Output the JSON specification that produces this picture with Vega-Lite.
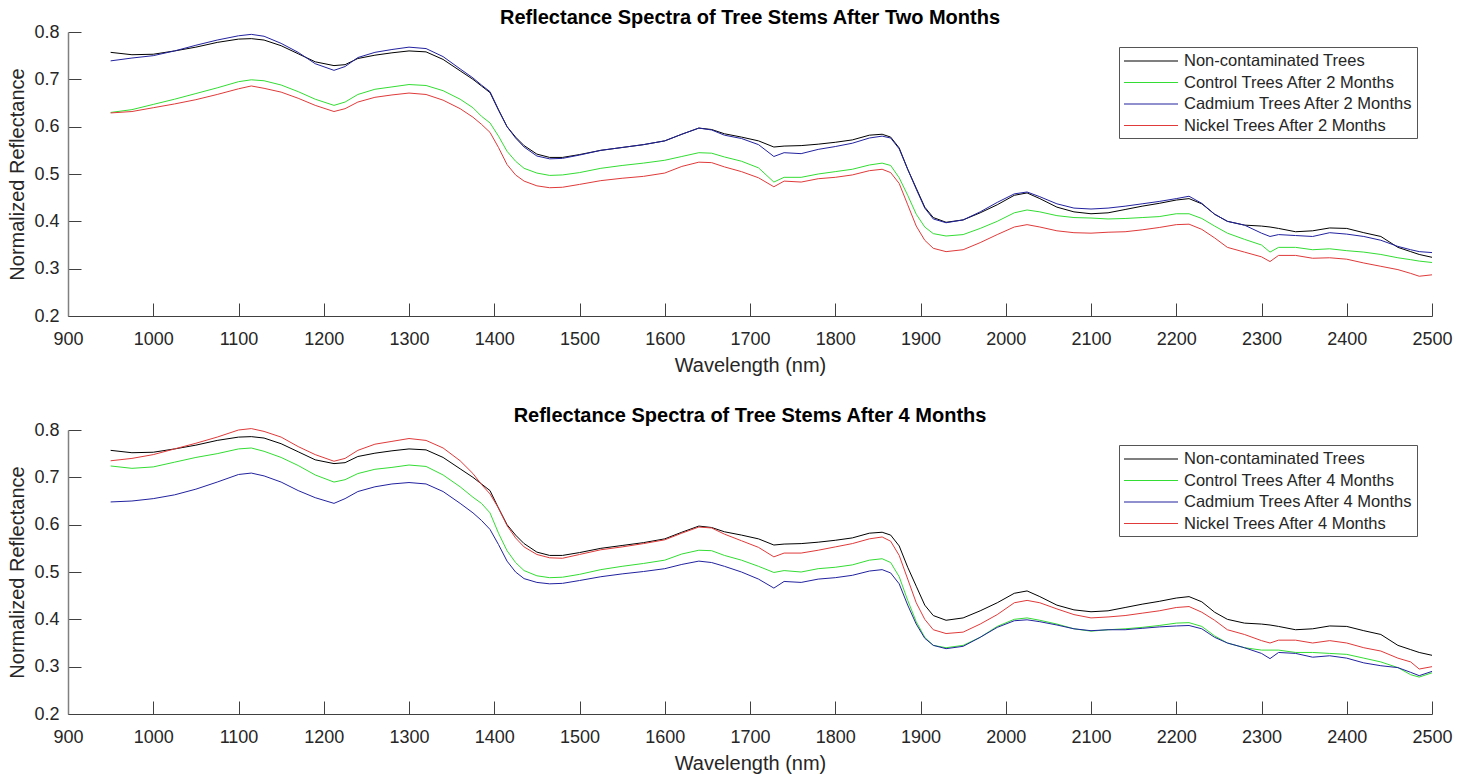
{
"$schema": "https://vega.github.io/schema/vega-lite/v6.json",
"background": "white",
"padding": {"left": 7, "top": 8, "right": 10, "bottom": 4},
"spacing": 30,
"config": {
  "font": "Liberation Sans",
  "view": {"stroke": null},
  "axis": {"labelFont": "Liberation Sans", "labelFontSize": 18, "labelColor": "#262626", "titleFont": "Liberation Sans", "titleFontSize": 20, "titleFontWeight": "normal", "titleColor": "#262626", "domainColor": "#404040", "tickColor": "#404040", "tickSize": -13, "grid": false, "labelFlush": false},
  "axisX": {"labelPadding": 27.5, "titlePadding": 7},
  "axisY": {"labelPadding": 22, "titlePadding": 6},
  "title": {"font": "Liberation Sans", "fontSize": 20, "fontWeight": "bold", "color": "#000000", "anchor": "middle", "offset": -5},
  "legend": {"labelFont": "Liberation Sans", "labelFontSize": 16.5, "labelColor": "#262626", "labelLimit": 0, "strokeColor": "#555555", "fillColor": "#ffffff", "padding": 4, "rowPadding": 2.5, "symbolType": "M-1,0H5", "symbolSize": 324, "symbolStrokeWidth": 1.2, "labelOffset": 41, "orient": "top-right", "offset": 15, "title": null}
},
"datasets": {"spectra": [
{"s":"N","w":950,"v":0.757},{"s":"N","w":975,"v":0.752},{"s":"N","w":1000,"v":0.753},{"s":"N","w":1025,"v":0.760},{"s":"N","w":1050,"v":0.768},{"s":"N","w":1075,"v":0.778},{"s":"N","w":1100,"v":0.785},{"s":"N","w":1115,"v":0.786},{"s":"N","w":1130,"v":0.783},{"s":"N","w":1150,"v":0.771},{"s":"N","w":1170,"v":0.754},{"s":"N","w":1190,"v":0.737},{"s":"N","w":1212,"v":0.729},{"s":"N","w":1225,"v":0.731},{"s":"N","w":1240,"v":0.744},{"s":"N","w":1260,"v":0.751},{"s":"N","w":1280,"v":0.756},{"s":"N","w":1300,"v":0.760},{"s":"N","w":1320,"v":0.758},{"s":"N","w":1340,"v":0.742},{"s":"N","w":1360,"v":0.718},{"s":"N","w":1375,"v":0.700},{"s":"N","w":1385,"v":0.686},{"s":"N","w":1395,"v":0.672},{"s":"N","w":1405,"v":0.635},{"s":"N","w":1415,"v":0.600},{"s":"N","w":1425,"v":0.578},{"s":"N","w":1435,"v":0.560},{"s":"N","w":1450,"v":0.542},{"s":"N","w":1465,"v":0.535},{"s":"N","w":1480,"v":0.535},{"s":"N","w":1500,"v":0.541},{"s":"N","w":1525,"v":0.550},{"s":"N","w":1550,"v":0.556},{"s":"N","w":1575,"v":0.562},{"s":"N","w":1600,"v":0.570},{"s":"N","w":1620,"v":0.584},{"s":"N","w":1640,"v":0.597},{"s":"N","w":1655,"v":0.594},{"s":"N","w":1670,"v":0.585},{"s":"N","w":1690,"v":0.578},{"s":"N","w":1710,"v":0.570},{"s":"N","w":1728,"v":0.557},{"s":"N","w":1740,"v":0.559},{"s":"N","w":1760,"v":0.560},{"s":"N","w":1780,"v":0.563},{"s":"N","w":1800,"v":0.567},{"s":"N","w":1820,"v":0.572},{"s":"N","w":1840,"v":0.582},{"s":"N","w":1855,"v":0.584},{"s":"N","w":1865,"v":0.578},{"s":"N","w":1875,"v":0.555},{"s":"N","w":1885,"v":0.510},{"s":"N","w":1895,"v":0.470},{"s":"N","w":1905,"v":0.430},{"s":"N","w":1915,"v":0.408},{"s":"N","w":1930,"v":0.398},{"s":"N","w":1950,"v":0.403},{"s":"N","w":1970,"v":0.418},{"s":"N","w":1990,"v":0.435},{"s":"N","w":2010,"v":0.455},{"s":"N","w":2025,"v":0.460},{"s":"N","w":2040,"v":0.448},{"s":"N","w":2060,"v":0.430},{"s":"N","w":2080,"v":0.420},{"s":"N","w":2100,"v":0.416},{"s":"N","w":2120,"v":0.418},{"s":"N","w":2140,"v":0.425},{"s":"N","w":2160,"v":0.432},{"s":"N","w":2180,"v":0.438},{"s":"N","w":2200,"v":0.445},{"s":"N","w":2215,"v":0.448},{"s":"N","w":2230,"v":0.437},{"s":"N","w":2245,"v":0.415},{"s":"N","w":2260,"v":0.400},{"s":"N","w":2280,"v":0.392},{"s":"N","w":2300,"v":0.390},{"s":"N","w":2310,"v":0.388},{"s":"N","w":2320,"v":0.385},{"s":"N","w":2340,"v":0.378},{"s":"N","w":2360,"v":0.380},{"s":"N","w":2380,"v":0.386},{"s":"N","w":2400,"v":0.385},{"s":"N","w":2420,"v":0.376},{"s":"N","w":2440,"v":0.368},{"s":"N","w":2460,"v":0.345},{"s":"N","w":2475,"v":0.336},{"s":"N","w":2485,"v":0.330},{"s":"N","w":2500,"v":0.324},
{"s":"C2","w":950,"v":0.630},{"s":"C2","w":975,"v":0.636},{"s":"C2","w":1000,"v":0.647},{"s":"C2","w":1025,"v":0.658},{"s":"C2","w":1050,"v":0.670},{"s":"C2","w":1075,"v":0.682},{"s":"C2","w":1100,"v":0.695},{"s":"C2","w":1115,"v":0.699},{"s":"C2","w":1130,"v":0.697},{"s":"C2","w":1150,"v":0.688},{"s":"C2","w":1170,"v":0.674},{"s":"C2","w":1190,"v":0.658},{"s":"C2","w":1212,"v":0.645},{"s":"C2","w":1225,"v":0.652},{"s":"C2","w":1240,"v":0.668},{"s":"C2","w":1260,"v":0.679},{"s":"C2","w":1280,"v":0.684},{"s":"C2","w":1300,"v":0.689},{"s":"C2","w":1320,"v":0.687},{"s":"C2","w":1340,"v":0.676},{"s":"C2","w":1360,"v":0.658},{"s":"C2","w":1375,"v":0.640},{"s":"C2","w":1385,"v":0.622},{"s":"C2","w":1395,"v":0.608},{"s":"C2","w":1405,"v":0.580},{"s":"C2","w":1415,"v":0.548},{"s":"C2","w":1425,"v":0.527},{"s":"C2","w":1435,"v":0.512},{"s":"C2","w":1450,"v":0.502},{"s":"C2","w":1465,"v":0.497},{"s":"C2","w":1480,"v":0.498},{"s":"C2","w":1500,"v":0.503},{"s":"C2","w":1525,"v":0.512},{"s":"C2","w":1550,"v":0.518},{"s":"C2","w":1575,"v":0.523},{"s":"C2","w":1600,"v":0.529},{"s":"C2","w":1620,"v":0.537},{"s":"C2","w":1640,"v":0.545},{"s":"C2","w":1655,"v":0.544},{"s":"C2","w":1670,"v":0.536},{"s":"C2","w":1690,"v":0.527},{"s":"C2","w":1710,"v":0.513},{"s":"C2","w":1728,"v":0.483},{"s":"C2","w":1740,"v":0.493},{"s":"C2","w":1760,"v":0.493},{"s":"C2","w":1780,"v":0.500},{"s":"C2","w":1800,"v":0.505},{"s":"C2","w":1820,"v":0.510},{"s":"C2","w":1840,"v":0.519},{"s":"C2","w":1855,"v":0.523},{"s":"C2","w":1865,"v":0.518},{"s":"C2","w":1875,"v":0.492},{"s":"C2","w":1885,"v":0.455},{"s":"C2","w":1895,"v":0.415},{"s":"C2","w":1905,"v":0.388},{"s":"C2","w":1915,"v":0.374},{"s":"C2","w":1930,"v":0.369},{"s":"C2","w":1950,"v":0.372},{"s":"C2","w":1970,"v":0.385},{"s":"C2","w":1990,"v":0.400},{"s":"C2","w":2010,"v":0.418},{"s":"C2","w":2025,"v":0.424},{"s":"C2","w":2040,"v":0.420},{"s":"C2","w":2060,"v":0.412},{"s":"C2","w":2080,"v":0.408},{"s":"C2","w":2100,"v":0.407},{"s":"C2","w":2120,"v":0.405},{"s":"C2","w":2140,"v":0.406},{"s":"C2","w":2160,"v":0.408},{"s":"C2","w":2180,"v":0.410},{"s":"C2","w":2200,"v":0.416},{"s":"C2","w":2215,"v":0.416},{"s":"C2","w":2230,"v":0.406},{"s":"C2","w":2245,"v":0.390},{"s":"C2","w":2260,"v":0.375},{"s":"C2","w":2280,"v":0.362},{"s":"C2","w":2300,"v":0.350},{"s":"C2","w":2310,"v":0.335},{"s":"C2","w":2320,"v":0.345},{"s":"C2","w":2340,"v":0.345},{"s":"C2","w":2360,"v":0.340},{"s":"C2","w":2380,"v":0.342},{"s":"C2","w":2400,"v":0.338},{"s":"C2","w":2420,"v":0.335},{"s":"C2","w":2440,"v":0.330},{"s":"C2","w":2460,"v":0.323},{"s":"C2","w":2475,"v":0.319},{"s":"C2","w":2485,"v":0.316},{"s":"C2","w":2500,"v":0.313},
{"s":"Cd2","w":950,"v":0.739},{"s":"Cd2","w":975,"v":0.745},{"s":"Cd2","w":1000,"v":0.750},{"s":"Cd2","w":1025,"v":0.760},{"s":"Cd2","w":1050,"v":0.772},{"s":"Cd2","w":1075,"v":0.783},{"s":"Cd2","w":1100,"v":0.792},{"s":"Cd2","w":1115,"v":0.795},{"s":"Cd2","w":1130,"v":0.791},{"s":"Cd2","w":1150,"v":0.776},{"s":"Cd2","w":1170,"v":0.757},{"s":"Cd2","w":1190,"v":0.733},{"s":"Cd2","w":1212,"v":0.719},{"s":"Cd2","w":1225,"v":0.727},{"s":"Cd2","w":1240,"v":0.746},{"s":"Cd2","w":1260,"v":0.757},{"s":"Cd2","w":1280,"v":0.763},{"s":"Cd2","w":1300,"v":0.768},{"s":"Cd2","w":1320,"v":0.765},{"s":"Cd2","w":1340,"v":0.748},{"s":"Cd2","w":1360,"v":0.722},{"s":"Cd2","w":1375,"v":0.703},{"s":"Cd2","w":1385,"v":0.688},{"s":"Cd2","w":1395,"v":0.674},{"s":"Cd2","w":1405,"v":0.636},{"s":"Cd2","w":1415,"v":0.600},{"s":"Cd2","w":1425,"v":0.576},{"s":"Cd2","w":1435,"v":0.557},{"s":"Cd2","w":1450,"v":0.538},{"s":"Cd2","w":1465,"v":0.532},{"s":"Cd2","w":1480,"v":0.533},{"s":"Cd2","w":1500,"v":0.540},{"s":"Cd2","w":1525,"v":0.550},{"s":"Cd2","w":1550,"v":0.556},{"s":"Cd2","w":1575,"v":0.562},{"s":"Cd2","w":1600,"v":0.570},{"s":"Cd2","w":1620,"v":0.584},{"s":"Cd2","w":1640,"v":0.597},{"s":"Cd2","w":1655,"v":0.593},{"s":"Cd2","w":1670,"v":0.582},{"s":"Cd2","w":1690,"v":0.575},{"s":"Cd2","w":1710,"v":0.562},{"s":"Cd2","w":1728,"v":0.537},{"s":"Cd2","w":1740,"v":0.545},{"s":"Cd2","w":1760,"v":0.543},{"s":"Cd2","w":1780,"v":0.552},{"s":"Cd2","w":1800,"v":0.558},{"s":"Cd2","w":1820,"v":0.565},{"s":"Cd2","w":1840,"v":0.576},{"s":"Cd2","w":1855,"v":0.580},{"s":"Cd2","w":1865,"v":0.576},{"s":"Cd2","w":1875,"v":0.553},{"s":"Cd2","w":1885,"v":0.510},{"s":"Cd2","w":1895,"v":0.468},{"s":"Cd2","w":1905,"v":0.428},{"s":"Cd2","w":1915,"v":0.405},{"s":"Cd2","w":1930,"v":0.397},{"s":"Cd2","w":1950,"v":0.403},{"s":"Cd2","w":1970,"v":0.420},{"s":"Cd2","w":1990,"v":0.440},{"s":"Cd2","w":2010,"v":0.458},{"s":"Cd2","w":2025,"v":0.462},{"s":"Cd2","w":2040,"v":0.452},{"s":"Cd2","w":2060,"v":0.437},{"s":"Cd2","w":2080,"v":0.428},{"s":"Cd2","w":2100,"v":0.426},{"s":"Cd2","w":2120,"v":0.428},{"s":"Cd2","w":2140,"v":0.432},{"s":"Cd2","w":2160,"v":0.437},{"s":"Cd2","w":2180,"v":0.442},{"s":"Cd2","w":2200,"v":0.448},{"s":"Cd2","w":2215,"v":0.453},{"s":"Cd2","w":2230,"v":0.438},{"s":"Cd2","w":2245,"v":0.415},{"s":"Cd2","w":2260,"v":0.400},{"s":"Cd2","w":2280,"v":0.392},{"s":"Cd2","w":2300,"v":0.375},{"s":"Cd2","w":2310,"v":0.368},{"s":"Cd2","w":2320,"v":0.372},{"s":"Cd2","w":2340,"v":0.370},{"s":"Cd2","w":2360,"v":0.368},{"s":"Cd2","w":2380,"v":0.376},{"s":"Cd2","w":2400,"v":0.373},{"s":"Cd2","w":2420,"v":0.368},{"s":"Cd2","w":2440,"v":0.360},{"s":"Cd2","w":2460,"v":0.347},{"s":"Cd2","w":2475,"v":0.340},{"s":"Cd2","w":2485,"v":0.336},{"s":"Cd2","w":2500,"v":0.334},
{"s":"Ni2","w":950,"v":0.629},{"s":"Ni2","w":975,"v":0.632},{"s":"Ni2","w":1000,"v":0.640},{"s":"Ni2","w":1025,"v":0.648},{"s":"Ni2","w":1050,"v":0.657},{"s":"Ni2","w":1075,"v":0.668},{"s":"Ni2","w":1100,"v":0.680},{"s":"Ni2","w":1115,"v":0.686},{"s":"Ni2","w":1130,"v":0.681},{"s":"Ni2","w":1150,"v":0.673},{"s":"Ni2","w":1170,"v":0.660},{"s":"Ni2","w":1190,"v":0.645},{"s":"Ni2","w":1212,"v":0.632},{"s":"Ni2","w":1225,"v":0.638},{"s":"Ni2","w":1240,"v":0.652},{"s":"Ni2","w":1260,"v":0.662},{"s":"Ni2","w":1280,"v":0.667},{"s":"Ni2","w":1300,"v":0.671},{"s":"Ni2","w":1320,"v":0.668},{"s":"Ni2","w":1340,"v":0.656},{"s":"Ni2","w":1360,"v":0.638},{"s":"Ni2","w":1375,"v":0.620},{"s":"Ni2","w":1385,"v":0.605},{"s":"Ni2","w":1395,"v":0.588},{"s":"Ni2","w":1405,"v":0.556},{"s":"Ni2","w":1415,"v":0.520},{"s":"Ni2","w":1425,"v":0.498},{"s":"Ni2","w":1435,"v":0.485},{"s":"Ni2","w":1450,"v":0.475},{"s":"Ni2","w":1465,"v":0.471},{"s":"Ni2","w":1480,"v":0.472},{"s":"Ni2","w":1500,"v":0.478},{"s":"Ni2","w":1525,"v":0.486},{"s":"Ni2","w":1550,"v":0.491},{"s":"Ni2","w":1575,"v":0.495},{"s":"Ni2","w":1600,"v":0.502},{"s":"Ni2","w":1620,"v":0.516},{"s":"Ni2","w":1640,"v":0.525},{"s":"Ni2","w":1655,"v":0.524},{"s":"Ni2","w":1670,"v":0.515},{"s":"Ni2","w":1690,"v":0.505},{"s":"Ni2","w":1710,"v":0.492},{"s":"Ni2","w":1728,"v":0.473},{"s":"Ni2","w":1740,"v":0.485},{"s":"Ni2","w":1760,"v":0.483},{"s":"Ni2","w":1780,"v":0.490},{"s":"Ni2","w":1800,"v":0.493},{"s":"Ni2","w":1820,"v":0.498},{"s":"Ni2","w":1840,"v":0.507},{"s":"Ni2","w":1855,"v":0.510},{"s":"Ni2","w":1865,"v":0.503},{"s":"Ni2","w":1875,"v":0.480},{"s":"Ni2","w":1885,"v":0.435},{"s":"Ni2","w":1895,"v":0.390},{"s":"Ni2","w":1905,"v":0.360},{"s":"Ni2","w":1915,"v":0.343},{"s":"Ni2","w":1930,"v":0.336},{"s":"Ni2","w":1950,"v":0.340},{"s":"Ni2","w":1970,"v":0.355},{"s":"Ni2","w":1990,"v":0.372},{"s":"Ni2","w":2010,"v":0.388},{"s":"Ni2","w":2025,"v":0.393},{"s":"Ni2","w":2040,"v":0.388},{"s":"Ni2","w":2060,"v":0.380},{"s":"Ni2","w":2080,"v":0.376},{"s":"Ni2","w":2100,"v":0.375},{"s":"Ni2","w":2120,"v":0.377},{"s":"Ni2","w":2140,"v":0.378},{"s":"Ni2","w":2160,"v":0.382},{"s":"Ni2","w":2180,"v":0.387},{"s":"Ni2","w":2200,"v":0.393},{"s":"Ni2","w":2215,"v":0.394},{"s":"Ni2","w":2230,"v":0.383},{"s":"Ni2","w":2245,"v":0.365},{"s":"Ni2","w":2260,"v":0.345},{"s":"Ni2","w":2280,"v":0.335},{"s":"Ni2","w":2300,"v":0.325},{"s":"Ni2","w":2310,"v":0.315},{"s":"Ni2","w":2320,"v":0.328},{"s":"Ni2","w":2340,"v":0.328},{"s":"Ni2","w":2360,"v":0.322},{"s":"Ni2","w":2380,"v":0.323},{"s":"Ni2","w":2400,"v":0.320},{"s":"Ni2","w":2420,"v":0.312},{"s":"Ni2","w":2440,"v":0.305},{"s":"Ni2","w":2460,"v":0.298},{"s":"Ni2","w":2475,"v":0.290},{"s":"Ni2","w":2485,"v":0.284},{"s":"Ni2","w":2500,"v":0.287},
{"s":"C4","w":950,"v":0.724},{"s":"C4","w":975,"v":0.719},{"s":"C4","w":1000,"v":0.722},{"s":"C4","w":1025,"v":0.732},{"s":"C4","w":1050,"v":0.742},{"s":"C4","w":1075,"v":0.750},{"s":"C4","w":1100,"v":0.760},{"s":"C4","w":1115,"v":0.762},{"s":"C4","w":1130,"v":0.755},{"s":"C4","w":1150,"v":0.742},{"s":"C4","w":1170,"v":0.725},{"s":"C4","w":1190,"v":0.705},{"s":"C4","w":1212,"v":0.690},{"s":"C4","w":1225,"v":0.695},{"s":"C4","w":1240,"v":0.708},{"s":"C4","w":1260,"v":0.717},{"s":"C4","w":1280,"v":0.721},{"s":"C4","w":1300,"v":0.726},{"s":"C4","w":1320,"v":0.723},{"s":"C4","w":1340,"v":0.705},{"s":"C4","w":1360,"v":0.680},{"s":"C4","w":1375,"v":0.658},{"s":"C4","w":1385,"v":0.645},{"s":"C4","w":1395,"v":0.625},{"s":"C4","w":1405,"v":0.582},{"s":"C4","w":1415,"v":0.545},{"s":"C4","w":1425,"v":0.520},{"s":"C4","w":1435,"v":0.503},{"s":"C4","w":1450,"v":0.492},{"s":"C4","w":1465,"v":0.488},{"s":"C4","w":1480,"v":0.489},{"s":"C4","w":1500,"v":0.495},{"s":"C4","w":1525,"v":0.505},{"s":"C4","w":1550,"v":0.512},{"s":"C4","w":1575,"v":0.518},{"s":"C4","w":1600,"v":0.525},{"s":"C4","w":1620,"v":0.538},{"s":"C4","w":1640,"v":0.546},{"s":"C4","w":1655,"v":0.545},{"s":"C4","w":1670,"v":0.535},{"s":"C4","w":1690,"v":0.525},{"s":"C4","w":1710,"v":0.512},{"s":"C4","w":1728,"v":0.499},{"s":"C4","w":1740,"v":0.503},{"s":"C4","w":1760,"v":0.500},{"s":"C4","w":1780,"v":0.507},{"s":"C4","w":1800,"v":0.510},{"s":"C4","w":1820,"v":0.515},{"s":"C4","w":1840,"v":0.525},{"s":"C4","w":1855,"v":0.528},{"s":"C4","w":1865,"v":0.520},{"s":"C4","w":1875,"v":0.490},{"s":"C4","w":1885,"v":0.440},{"s":"C4","w":1895,"v":0.395},{"s":"C4","w":1905,"v":0.362},{"s":"C4","w":1915,"v":0.345},{"s":"C4","w":1930,"v":0.340},{"s":"C4","w":1950,"v":0.345},{"s":"C4","w":1970,"v":0.362},{"s":"C4","w":1990,"v":0.385},{"s":"C4","w":2010,"v":0.400},{"s":"C4","w":2025,"v":0.403},{"s":"C4","w":2040,"v":0.398},{"s":"C4","w":2060,"v":0.390},{"s":"C4","w":2080,"v":0.380},{"s":"C4","w":2100,"v":0.375},{"s":"C4","w":2120,"v":0.378},{"s":"C4","w":2140,"v":0.380},{"s":"C4","w":2160,"v":0.383},{"s":"C4","w":2180,"v":0.387},{"s":"C4","w":2200,"v":0.392},{"s":"C4","w":2215,"v":0.393},{"s":"C4","w":2230,"v":0.385},{"s":"C4","w":2245,"v":0.365},{"s":"C4","w":2260,"v":0.350},{"s":"C4","w":2280,"v":0.340},{"s":"C4","w":2300,"v":0.335},{"s":"C4","w":2310,"v":0.335},{"s":"C4","w":2320,"v":0.335},{"s":"C4","w":2340,"v":0.330},{"s":"C4","w":2360,"v":0.330},{"s":"C4","w":2380,"v":0.328},{"s":"C4","w":2400,"v":0.326},{"s":"C4","w":2420,"v":0.318},{"s":"C4","w":2440,"v":0.310},{"s":"C4","w":2460,"v":0.298},{"s":"C4","w":2475,"v":0.283},{"s":"C4","w":2485,"v":0.278},{"s":"C4","w":2500,"v":0.287},
{"s":"Cd4","w":950,"v":0.648},{"s":"Cd4","w":975,"v":0.650},{"s":"Cd4","w":1000,"v":0.655},{"s":"Cd4","w":1025,"v":0.663},{"s":"Cd4","w":1050,"v":0.675},{"s":"Cd4","w":1075,"v":0.690},{"s":"Cd4","w":1100,"v":0.706},{"s":"Cd4","w":1115,"v":0.709},{"s":"Cd4","w":1130,"v":0.703},{"s":"Cd4","w":1150,"v":0.690},{"s":"Cd4","w":1170,"v":0.672},{"s":"Cd4","w":1190,"v":0.657},{"s":"Cd4","w":1212,"v":0.645},{"s":"Cd4","w":1225,"v":0.655},{"s":"Cd4","w":1240,"v":0.670},{"s":"Cd4","w":1260,"v":0.680},{"s":"Cd4","w":1280,"v":0.686},{"s":"Cd4","w":1300,"v":0.689},{"s":"Cd4","w":1320,"v":0.686},{"s":"Cd4","w":1340,"v":0.670},{"s":"Cd4","w":1360,"v":0.645},{"s":"Cd4","w":1375,"v":0.625},{"s":"Cd4","w":1385,"v":0.609},{"s":"Cd4","w":1395,"v":0.590},{"s":"Cd4","w":1405,"v":0.558},{"s":"Cd4","w":1415,"v":0.523},{"s":"Cd4","w":1425,"v":0.500},{"s":"Cd4","w":1435,"v":0.486},{"s":"Cd4","w":1450,"v":0.478},{"s":"Cd4","w":1465,"v":0.475},{"s":"Cd4","w":1480,"v":0.476},{"s":"Cd4","w":1500,"v":0.482},{"s":"Cd4","w":1525,"v":0.490},{"s":"Cd4","w":1550,"v":0.496},{"s":"Cd4","w":1575,"v":0.501},{"s":"Cd4","w":1600,"v":0.507},{"s":"Cd4","w":1620,"v":0.516},{"s":"Cd4","w":1640,"v":0.523},{"s":"Cd4","w":1655,"v":0.520},{"s":"Cd4","w":1670,"v":0.512},{"s":"Cd4","w":1690,"v":0.500},{"s":"Cd4","w":1710,"v":0.485},{"s":"Cd4","w":1728,"v":0.466},{"s":"Cd4","w":1740,"v":0.480},{"s":"Cd4","w":1760,"v":0.478},{"s":"Cd4","w":1780,"v":0.485},{"s":"Cd4","w":1800,"v":0.488},{"s":"Cd4","w":1820,"v":0.493},{"s":"Cd4","w":1840,"v":0.502},{"s":"Cd4","w":1855,"v":0.505},{"s":"Cd4","w":1865,"v":0.498},{"s":"Cd4","w":1875,"v":0.475},{"s":"Cd4","w":1885,"v":0.430},{"s":"Cd4","w":1895,"v":0.390},{"s":"Cd4","w":1905,"v":0.360},{"s":"Cd4","w":1915,"v":0.345},{"s":"Cd4","w":1930,"v":0.338},{"s":"Cd4","w":1950,"v":0.343},{"s":"Cd4","w":1970,"v":0.362},{"s":"Cd4","w":1990,"v":0.383},{"s":"Cd4","w":2010,"v":0.397},{"s":"Cd4","w":2025,"v":0.399},{"s":"Cd4","w":2040,"v":0.395},{"s":"Cd4","w":2060,"v":0.388},{"s":"Cd4","w":2080,"v":0.380},{"s":"Cd4","w":2100,"v":0.376},{"s":"Cd4","w":2120,"v":0.378},{"s":"Cd4","w":2140,"v":0.378},{"s":"Cd4","w":2160,"v":0.381},{"s":"Cd4","w":2180,"v":0.384},{"s":"Cd4","w":2200,"v":0.386},{"s":"Cd4","w":2215,"v":0.387},{"s":"Cd4","w":2230,"v":0.380},{"s":"Cd4","w":2245,"v":0.362},{"s":"Cd4","w":2260,"v":0.350},{"s":"Cd4","w":2280,"v":0.340},{"s":"Cd4","w":2300,"v":0.328},{"s":"Cd4","w":2310,"v":0.317},{"s":"Cd4","w":2320,"v":0.330},{"s":"Cd4","w":2340,"v":0.328},{"s":"Cd4","w":2360,"v":0.320},{"s":"Cd4","w":2380,"v":0.323},{"s":"Cd4","w":2400,"v":0.318},{"s":"Cd4","w":2420,"v":0.308},{"s":"Cd4","w":2440,"v":0.302},{"s":"Cd4","w":2460,"v":0.298},{"s":"Cd4","w":2475,"v":0.288},{"s":"Cd4","w":2485,"v":0.281},{"s":"Cd4","w":2500,"v":0.290},
{"s":"Ni4","w":950,"v":0.735},{"s":"Ni4","w":975,"v":0.740},{"s":"Ni4","w":1000,"v":0.748},{"s":"Ni4","w":1025,"v":0.760},{"s":"Ni4","w":1050,"v":0.772},{"s":"Ni4","w":1075,"v":0.785},{"s":"Ni4","w":1100,"v":0.800},{"s":"Ni4","w":1115,"v":0.803},{"s":"Ni4","w":1130,"v":0.797},{"s":"Ni4","w":1150,"v":0.785},{"s":"Ni4","w":1170,"v":0.765},{"s":"Ni4","w":1190,"v":0.748},{"s":"Ni4","w":1212,"v":0.734},{"s":"Ni4","w":1225,"v":0.740},{"s":"Ni4","w":1240,"v":0.757},{"s":"Ni4","w":1260,"v":0.770},{"s":"Ni4","w":1280,"v":0.776},{"s":"Ni4","w":1300,"v":0.782},{"s":"Ni4","w":1320,"v":0.778},{"s":"Ni4","w":1340,"v":0.762},{"s":"Ni4","w":1360,"v":0.735},{"s":"Ni4","w":1375,"v":0.708},{"s":"Ni4","w":1385,"v":0.685},{"s":"Ni4","w":1395,"v":0.665},{"s":"Ni4","w":1405,"v":0.635},{"s":"Ni4","w":1415,"v":0.598},{"s":"Ni4","w":1425,"v":0.572},{"s":"Ni4","w":1435,"v":0.553},{"s":"Ni4","w":1450,"v":0.537},{"s":"Ni4","w":1465,"v":0.530},{"s":"Ni4","w":1480,"v":0.529},{"s":"Ni4","w":1500,"v":0.537},{"s":"Ni4","w":1525,"v":0.547},{"s":"Ni4","w":1550,"v":0.553},{"s":"Ni4","w":1575,"v":0.560},{"s":"Ni4","w":1600,"v":0.568},{"s":"Ni4","w":1620,"v":0.582},{"s":"Ni4","w":1640,"v":0.595},{"s":"Ni4","w":1655,"v":0.593},{"s":"Ni4","w":1670,"v":0.580},{"s":"Ni4","w":1690,"v":0.566},{"s":"Ni4","w":1710,"v":0.552},{"s":"Ni4","w":1728,"v":0.532},{"s":"Ni4","w":1740,"v":0.540},{"s":"Ni4","w":1760,"v":0.540},{"s":"Ni4","w":1780,"v":0.546},{"s":"Ni4","w":1800,"v":0.553},{"s":"Ni4","w":1820,"v":0.560},{"s":"Ni4","w":1840,"v":0.570},{"s":"Ni4","w":1855,"v":0.574},{"s":"Ni4","w":1865,"v":0.565},{"s":"Ni4","w":1875,"v":0.535},{"s":"Ni4","w":1885,"v":0.485},{"s":"Ni4","w":1895,"v":0.435},{"s":"Ni4","w":1905,"v":0.400},{"s":"Ni4","w":1915,"v":0.378},{"s":"Ni4","w":1930,"v":0.370},{"s":"Ni4","w":1950,"v":0.373},{"s":"Ni4","w":1970,"v":0.390},{"s":"Ni4","w":1990,"v":0.410},{"s":"Ni4","w":2010,"v":0.435},{"s":"Ni4","w":2025,"v":0.440},{"s":"Ni4","w":2040,"v":0.435},{"s":"Ni4","w":2060,"v":0.422},{"s":"Ni4","w":2080,"v":0.410},{"s":"Ni4","w":2100,"v":0.403},{"s":"Ni4","w":2120,"v":0.405},{"s":"Ni4","w":2140,"v":0.408},{"s":"Ni4","w":2160,"v":0.413},{"s":"Ni4","w":2180,"v":0.418},{"s":"Ni4","w":2200,"v":0.425},{"s":"Ni4","w":2215,"v":0.427},{"s":"Ni4","w":2230,"v":0.415},{"s":"Ni4","w":2245,"v":0.398},{"s":"Ni4","w":2260,"v":0.378},{"s":"Ni4","w":2280,"v":0.368},{"s":"Ni4","w":2300,"v":0.355},{"s":"Ni4","w":2310,"v":0.350},{"s":"Ni4","w":2320,"v":0.356},{"s":"Ni4","w":2340,"v":0.356},{"s":"Ni4","w":2360,"v":0.350},{"s":"Ni4","w":2380,"v":0.355},{"s":"Ni4","w":2400,"v":0.350},{"s":"Ni4","w":2420,"v":0.340},{"s":"Ni4","w":2440,"v":0.333},{"s":"Ni4","w":2460,"v":0.318},{"s":"Ni4","w":2475,"v":0.310},{"s":"Ni4","w":2485,"v":0.295},{"s":"Ni4","w":2500,"v":0.300}
]},
"vconcat": [
 {
  "width": 1364, "height": 284,
  "title": "Reflectance Spectra of Tree Stems After Two Months",
  "data": {"name": "spectra"},
  "transform": [{"filter": {"field": "s", "oneOf": ["N", "C2", "Cd2", "Ni2"]}}],
  "mark": {"type": "line", "strokeWidth": 1},
  "encoding": {
   "x": {"field": "w", "type": "quantitative", "scale": {"domain": [900, 2500], "nice": false, "zero": false}, "axis": {"title": "Wavelength (nm)", "values": [900,1000,1100,1200,1300,1400,1500,1600,1700,1800,1900,2000,2100,2200,2300,2400,2500], "format": "d"}},
   "y": {"field": "v", "type": "quantitative", "scale": {"domain": [0.2, 0.8], "nice": false, "zero": false}, "axis": {"title": "Normalized Reflectance", "values": [0.2,0.3,0.4,0.5,0.6,0.7,0.8], "format": ".1f", "domainColor": "#808080", "domainWidth": 1.5}},
   "color": {"field": "s", "type": "nominal", "scale": {"domain": ["N", "C2", "Cd2", "Ni2"], "range": ["#000000", "#33dd33", "#2222a0", "#e03a3a"]}, "legend": {"labelExpr": "{'N':'Non-contaminated Trees','C2':'Control Trees After 2 Months','Cd2':'Cadmium Trees After 2 Months','Ni2':'Nickel Trees After 2 Months'}[datum.label]"}}
  }
 },
 {
  "width": 1364, "height": 284,
  "title": "Reflectance Spectra of Tree Stems After 4 Months",
  "data": {"name": "spectra"},
  "transform": [{"filter": {"field": "s", "oneOf": ["N", "C4", "Cd4", "Ni4"]}}],
  "mark": {"type": "line", "strokeWidth": 1},
  "encoding": {
   "x": {"field": "w", "type": "quantitative", "scale": {"domain": [900, 2500], "nice": false, "zero": false}, "axis": {"title": "Wavelength (nm)", "values": [900,1000,1100,1200,1300,1400,1500,1600,1700,1800,1900,2000,2100,2200,2300,2400,2500], "format": "d"}},
   "y": {"field": "v", "type": "quantitative", "scale": {"domain": [0.2, 0.8], "nice": false, "zero": false}, "axis": {"title": "Normalized Reflectance", "values": [0.2,0.3,0.4,0.5,0.6,0.7,0.8], "format": ".1f", "domainColor": "#808080", "domainWidth": 1.5}},
   "color": {"field": "s", "type": "nominal", "scale": {"domain": ["N", "C4", "Cd4", "Ni4"], "range": ["#000000", "#33dd33", "#2222a0", "#e03a3a"]}, "legend": {"labelExpr": "{'N':'Non-contaminated Trees','C4':'Control Trees After 4 Months','Cd4':'Cadmium Trees After 4 Months','Ni4':'Nickel Trees After 4 Months'}[datum.label]"}}
  }
 }
],
"resolve": {"scale": {"color": "independent"}, "legend": {"color": "independent"}}
}
